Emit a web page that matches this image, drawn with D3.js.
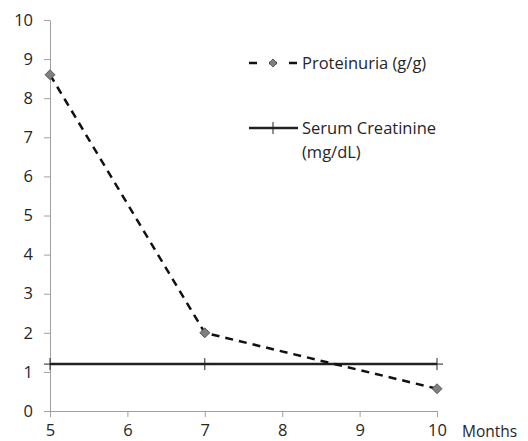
<html>
<head>
<script src="https://d3js.org/d3.v7.min.js"></script>
<style>
body { margin: 0; background: #fff; overflow: hidden; }
svg { display: block; }
text { font-family: "Open Sans", sans-serif; font-size: 16.5px; fill: #262626; }
</style>
</head>
<body>
<div id="chart"></div>
<script>
var months = [5, 7, 10];
var proteinuria = [8.6, 2.0, 0.57];
var creatinine = [1.2, 1.2, 1.2];
var xTicks = [5, 6, 7, 8, 9, 10];
var yTicks = [0, 1, 2, 3, 4, 5, 6, 7, 8, 9, 10];

var width = 528, height = 441;
var margin = {top: 20, left: 50, right: 91, bottom: 30};

var svg = d3.select('#chart').append('svg')
    .attr('width', width)
    .attr('height', height);

var x = d3.scaleLinear().domain([5, 10]).range([margin.left, width - margin.right]);
var y = d3.scaleLinear().domain([0, 10]).range([height - margin.bottom, margin.top]);

// axes
var yAxis = d3.axisLeft(y).tickValues(yTicks).tickFormat(d3.format('d'))
    .tickSize(6).tickPadding(11).tickSizeOuter(0);
var yG = svg.append('g').attr('transform', 'translate(' + margin.left + ',0)').call(yAxis);
var xAxis = d3.axisBottom(x).tickValues(xTicks).tickFormat(d3.format('d'))
    .tickSize(6).tickPadding(7).tickSizeOuter(0);
var xG = svg.append('g').attr('transform', 'translate(0,' + y(0) + ')').call(xAxis);
[yG, xG].forEach(function(g) {
    g.select('.domain').style('stroke', '#a0a0a0');
    g.selectAll('line').style('stroke', '#a0a0a0');
    g.selectAll('text').style('font-family', '"Open Sans", sans-serif').style('font-size', '16.5px').style('fill', '#262626');
});

svg.append('text').attr('x', 462).attr('y', 437).style('font-size', '15.5px').text('Months');

var line = d3.line().x(function(d) { return x(d[0]); }).y(function(d) { return y(d[1]); });

// creatinine
var cData = months.map(function(m, i) { return [m, creatinine[i]]; });
svg.append('path').datum(cData).attr('d', line)
    .style('fill', 'none').style('stroke', '#222').style('stroke-width', 2.5);
svg.selectAll('.cm').data(cData).enter().append('path')
    .attr('d', function(d) {
        var cx = x(d[0]), cy = y(d[1]);
        return 'M' + (cx - 6) + ',' + cy + 'H' + (cx + 6) + 'M' + cx + ',' + (cy - 6) + 'V' + (cy + 6);
    })
    .style('stroke', '#222').style('stroke-width', 1);

// proteinuria
var pData = months.map(function(m, i) { return [m, proteinuria[i]]; });
svg.append('path').datum(pData).attr('d', line)
    .style('fill', 'none').style('stroke', '#111').style('stroke-width', 2.5)
    .style('stroke-dasharray', '8,6');
svg.selectAll('.pm').data(pData).enter().append('path')
    .attr('d', 'M0,-5L5,0L0,5L-5,0Z')
    .attr('transform', function(d) { return 'translate(' + x(d[0]) + ',' + y(d[1]) + ')'; })
    .style('fill', '#808080').style('stroke', '#444').style('stroke-width', 0.8);

// legend
var lg = svg.append('g');
lg.append('path').attr('d', 'M249,63H298')
    .style('stroke', '#111').style('stroke-width', 2.5).style('stroke-dasharray', '8,12');
lg.append('path').attr('d', 'M0,-4L4,0L0,4L-4,0Z')
    .attr('transform', 'translate(273,63)')
    .style('fill', '#808080').style('stroke', '#444').style('stroke-width', 0.8);
lg.append('text').attr('x', 302).attr('y', 69).text('Proteinuria (g/g)');

lg.append('path').attr('d', 'M249,128H298').style('stroke', '#222').style('stroke-width', 2.5);
lg.append('path').attr('d', 'M273,122V134').style('stroke', '#222').style('stroke-width', 1);
lg.append('text').attr('x', 302).attr('y', 134).text('Serum Creatinine');
lg.append('text').attr('x', 302).attr('y', 158).text('(mg/dL)');
</script>
</body>
</html>
